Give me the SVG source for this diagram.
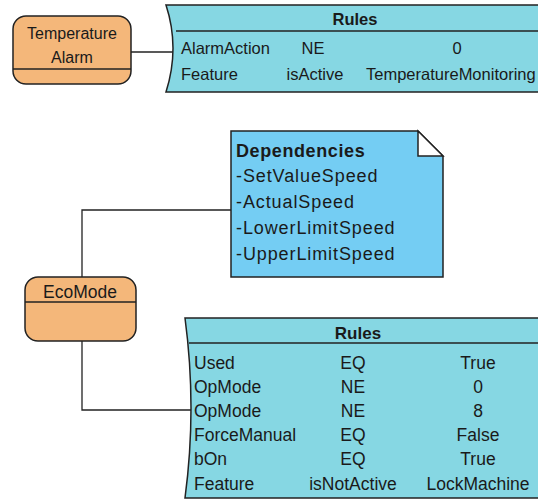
<svg xmlns="http://www.w3.org/2000/svg" width="538" height="500" viewBox="0 0 538 500">
<style>
text{font-family:"Liberation Sans",Arial,sans-serif;fill:#1a1a1a}
.st{stroke:#222;stroke-width:1.5}
.node{fill:#f4b77a}
.rules{fill:#86d7e3}
.note{fill:#74cdf3}
.c{text-anchor:middle}
.b{font-weight:bold}
.dep{font-size:18px;letter-spacing:0.9px}
.conn{fill:none;stroke:#222;stroke-width:1.3}
</style>
<rect width="538" height="500" fill="#fff"/>
<g id="connectors">
<path class="conn" d="M131,52 H173"/>
<path class="conn" d="M231,210 H82 V277"/>
<path class="conn" d="M82,341 V410 H191"/>
</g>
<g id="temperature-alarm">
<rect class="node st" x="13" y="16" width="118" height="68" rx="13"/>
<line class="st" x1="13" y1="69" x2="131" y2="69"/>
<text class="c" x="72" y="39" font-size="16">Temperature</text>
<text class="c" x="72" y="63" font-size="16">Alarm</text>
</g>
<g id="rules-top">
<path class="rules st" d="M166,5 Q180,48 166,92 L545,92 L545,5 Z"/>
<line class="st" x1="176" y1="31" x2="545" y2="31"/>
<text class="c b" x="355" y="25" font-size="16.5">Rules</text>
<text x="181" y="54" font-size="16.5">AlarmAction</text>
<text class="c" x="313" y="54" font-size="16.5">NE</text>
<text class="c" x="457" y="54" font-size="16.5">0</text>
<text x="181" y="80" font-size="16.5">Feature</text>
<text class="c" x="315" y="80" font-size="16.5">isActive</text>
<text x="366" y="80" font-size="16.5">TemperatureMonitoring</text>
</g>
<g id="dependencies">
<path class="note st" d="M231,131 L418,131 L443,156 L443,277 L231,277 Z"/>
<path fill="#fff" class="st" d="M418,131 L418,156 L443,156 Z"/>
<text class="b" x="236" y="157" font-size="18" letter-spacing="0.6">Dependencies</text>
<text class="dep" x="236" y="182">-SetValueSpeed</text>
<text class="dep" x="236" y="208">-ActualSpeed</text>
<text class="dep" x="236" y="234">-LowerLimitSpeed</text>
<text class="dep" x="236" y="260">-UpperLimitSpeed</text>
</g>
<g id="ecomode">
<rect class="node st" x="25" y="277" width="111" height="64" rx="13"/>
<line class="st" x1="25" y1="302" x2="136" y2="302"/>
<text class="c" x="80" y="298" font-size="17.5">EcoMode</text>
</g>
<g id="rules-bottom">
<path class="rules st" d="M185,318 Q197,408 185,498 L545,498 L545,318 Z"/>
<line class="st" x1="189" y1="343" x2="545" y2="343"/>
<text class="c b" x="358" y="339" font-size="17">Rules</text>
<text x="194" y="369" font-size="17.5">Used</text>
<text class="c" x="353" y="369" font-size="17.5">EQ</text>
<text class="c" x="478" y="369" font-size="17.5">True</text>
<text x="194" y="393" font-size="17.5">OpMode</text>
<text class="c" x="353" y="393" font-size="17.5">NE</text>
<text class="c" x="478" y="393" font-size="17.5">0</text>
<text x="194" y="417" font-size="17.5">OpMode</text>
<text class="c" x="353" y="417" font-size="17.5">NE</text>
<text class="c" x="478" y="417" font-size="17.5">8</text>
<text x="194" y="441" font-size="17.5">ForceManual</text>
<text class="c" x="353" y="441" font-size="17.5">EQ</text>
<text class="c" x="478" y="441" font-size="17.5">False</text>
<text x="194" y="465" font-size="17.5">bOn</text>
<text class="c" x="353" y="465" font-size="17.5">EQ</text>
<text class="c" x="478" y="465" font-size="17.5">True</text>
<text x="194" y="490" font-size="17.5">Feature</text>
<text class="c" x="353" y="490" font-size="17.5">isNotActive</text>
<text class="c" x="478" y="490" font-size="17.5">LockMachine</text>
</g>
</svg>
